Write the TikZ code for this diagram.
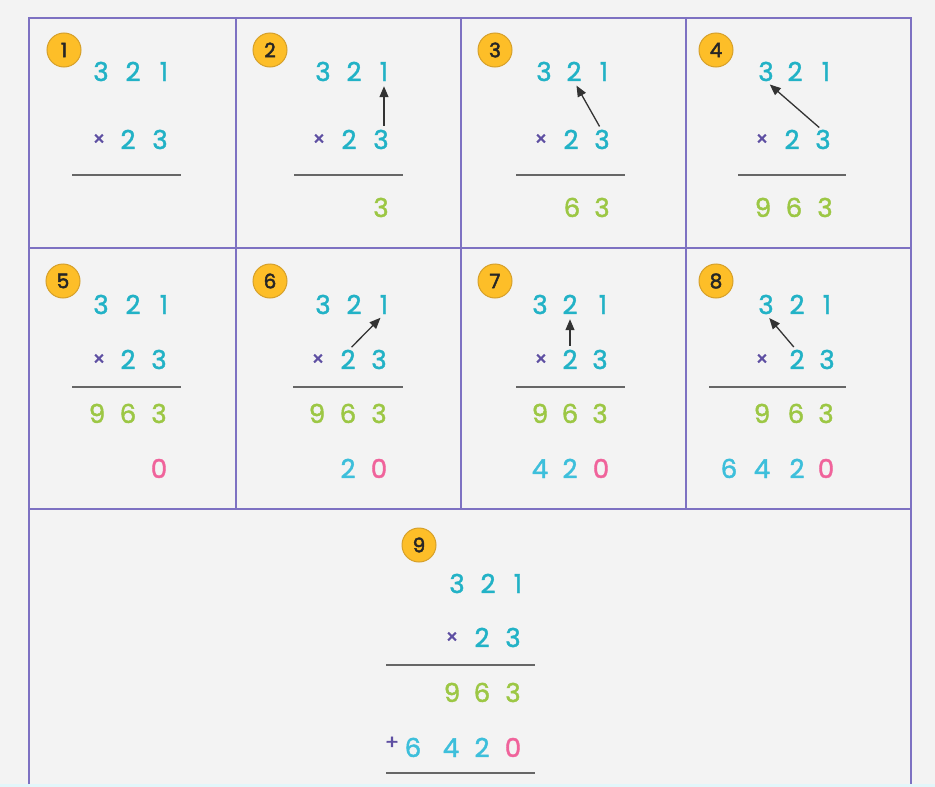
\documentclass[tikz,border=0pt]{standalone}
\usepackage{fontspec}
\setmainfont{Poppins}
\newfontface\digfont{Poppins}[FakeBold=1.6]
\newfontface\badgefont{Poppins}[FakeBold=2.4]
\usetikzlibrary{arrows.meta}
\definecolor{bg}{HTML}{F3F3F3}
\definecolor{grid}{HTML}{7D71C2}
\definecolor{teal}{HTML}{22B2C6}
\definecolor{lcyan}{HTML}{3DBFDB}
\definecolor{lgreen}{HTML}{9CC744}
\definecolor{pink}{HTML}{F0639B}
\definecolor{purp}{HTML}{5E4FA2}
\definecolor{badgef}{HTML}{FDBE28}
\definecolor{badged}{HTML}{D6A02A}
\definecolor{rule}{HTML}{666666}
\definecolor{arrowc}{HTML}{333333}
\definecolor{strip}{HTML}{E2F6FA}
\tikzset{
  dg/.style={inner sep=0pt, font=\fontsize{26}{26}\digfont, text height=18pt, text depth=0pt},
  tl/.style={dg, text=teal},
  cy/.style={dg, text=lcyan},
  gr/.style={dg, text=lgreen},
  pk/.style={dg, text=pink},
  op/.style={inner sep=0pt, font=\fontsize{20}{20}\digfont, text=purp},
  badge/.style={circle, fill=badgef, draw=badged, line width=1pt, minimum size=34pt, inner sep=0pt,
    font=\fontsize{20}{20}\badgefont, text=black!85},
  gridline/.style={draw=grid, line width=1.3pt},
  sumline/.style={draw=rule, line width=1.9pt},
  arr/.style={draw=arrowc, line width=1.3pt, -{Triangle[length=11pt,width=9pt]}, shorten <=5pt, shorten >=5pt}
}
\begin{document}
\begin{tikzpicture}[x=1pt,y=-1pt]
\useasboundingbox (0,0) rectangle (935,787);
\fill[bg] (0,0) rectangle (935,787);
\fill[strip] (0,784) rectangle (935,787);
% grid
\draw[gridline] (29,784) -- (29,18) -- (911,18) -- (911,784);
\draw[gridline] (29,248) -- (911,248);
\draw[gridline] (29,509) -- (911,509);
\draw[gridline] (236,18) -- (236,509);
\draw[gridline] (461,18) -- (461,509);
\draw[gridline] (686,18) -- (686,509);

% ---------- Panel 1
\node[badge] (b1) at (64,50) {1};
\node[tl] (p1a3) at (101,72) {3};
\node[tl] (p1a2) at (133,72) {2};
\node[tl] (p1a1) at (164,72) {1};
\node[op] (p1x) at (99,140) {×};
\node[tl] (p1b2) at (128,140) {2};
\node[tl] (p1b3) at (160,140) {3};
\coordinate (p1l) at (72,175); \coordinate (p1r) at (181,175);
\draw[sumline] (p1l) -- (p1r);

% ---------- Panel 2
\node[badge] (b2) at (270,50) {2};
\node[tl] (p2a3) at (323,72) {3};
\node[tl] (p2a2) at (354,72) {2};
\node[tl] (p2a1) at (384,72) {1};
\node[op] (p2x) at (319,140) {×};
\node[tl] (p2b2) at (349,140) {2};
\node[tl] (p2b3) at (381,140) {3};
\coordinate (p2l) at (294,175); \coordinate (p2r) at (403,175);
\draw[sumline] (p2l) -- (p2r);
\node[gr] (p2c3) at (381,208) {3};
\draw[arr] (p2b3.north -| p2a1) -- (p2a1.south);

% ---------- Panel 3
\node[badge] (b3) at (495,50) {3};
\node[tl] (p3a3) at (544,72) {3};
\node[tl] (p3a2) at (574,72) {2};
\node[tl] (p3a1) at (604,72) {1};
\node[op] (p3x) at (541,140) {×};
\node[tl] (p3b2) at (571,140) {2};
\node[tl] (p3b3) at (602,140) {3};
\coordinate (p3l) at (516,175); \coordinate (p3r) at (625,175);
\draw[sumline] (p3l) -- (p3r);
\node[gr] (p3c6) at (572,208) {6};
\node[gr] (p3c3) at (602,208) {3};
\draw[arr] (p3b3.north) -- (p3a2.south);

% ---------- Panel 4
\node[badge] (b4) at (716,50) {4};
\node[tl] (p4a3) at (766,72) {3};
\node[tl] (p4a2) at (795,72) {2};
\node[tl] (p4a1) at (826,72) {1};
\node[op] (p4x) at (762,140) {×};
\node[tl] (p4b2) at (792,140) {2};
\node[tl] (p4b3) at (823,140) {3};
\coordinate (p4l) at (738,175); \coordinate (p4r) at (846,175);
\draw[sumline] (p4l) -- (p4r);
\node[gr] (p4c9) at (763,208) {9};
\node[gr] (p4c6) at (794,208) {6};
\node[gr] (p4c3) at (825,208) {3};
\draw[arr] (p4b3.north) -- (p4a3.south);

% ---------- Panel 5
\node[badge] (b5) at (63,281) {5};
\node[tl] (p5a3) at (101,305) {3};
\node[tl] (p5a2) at (133,305) {2};
\node[tl] (p5a1) at (164,305) {1};
\node[op] (p5x) at (99,360) {×};
\node[tl] (p5b2) at (128,360) {2};
\node[tl] (p5b3) at (159,360) {3};
\coordinate (p5l) at (72,387); \coordinate (p5r) at (181,387);
\draw[sumline] (p5l) -- (p5r);
\node[gr] (p5c9) at (97,414) {9};
\node[gr] (p5c6) at (128,414) {6};
\node[gr] (p5c3) at (159,414) {3};
\node[pk] (p5d0) at (159,469) {0};

% ---------- Panel 6
\node[badge] (b6) at (270,281) {6};
\node[tl] (p6a3) at (323,305) {3};
\node[tl] (p6a2) at (354,305) {2};
\node[tl] (p6a1) at (384,305) {1};
\node[op] (p6x) at (318,360) {×};
\node[tl] (p6b2) at (348,360) {2};
\node[tl] (p6b3) at (379,360) {3};
\coordinate (p6l) at (293,387); \coordinate (p6r) at (403,387);
\draw[sumline] (p6l) -- (p6r);
\node[gr] (p6c9) at (317,414) {9};
\node[gr] (p6c6) at (348,414) {6};
\node[gr] (p6c3) at (379,414) {3};
\node[cy] (p6d2) at (348,469) {2};
\node[pk] (p6d0) at (379,469) {0};
\draw[arr] (p6b2.north) -- (p6a1.south);

% ---------- Panel 7
\node[badge] (b7) at (495,281) {7};
\node[tl] (p7a3) at (540,305) {3};
\node[tl] (p7a2) at (570,305) {2};
\node[tl] (p7a1) at (603,305) {1};
\node[op] (p7x) at (541,360) {×};
\node[tl] (p7b2) at (570,360) {2};
\node[tl] (p7b3) at (600,360) {3};
\coordinate (p7l) at (516,387); \coordinate (p7r) at (625,387);
\draw[sumline] (p7l) -- (p7r);
\node[gr] (p7c9) at (540,414) {9};
\node[gr] (p7c6) at (570,414) {6};
\node[gr] (p7c3) at (600,414) {3};
\node[cy] (p7d4) at (540,469) {4};
\node[cy] (p7d2) at (570,469) {2};
\node[pk] (p7d0) at (601,469) {0};
\draw[arr] (p7b2.north) -- (p7a2.south);

% ---------- Panel 8
\node[badge] (b8) at (716,281) {8};
\node[tl] (p8a3) at (766,305) {3};
\node[tl] (p8a2) at (797,305) {2};
\node[tl] (p8a1) at (827,305) {1};
\node[op] (p8x) at (762,360) {×};
\node[tl] (p8b2) at (797,360) {2};
\node[tl] (p8b3) at (827,360) {3};
\coordinate (p8l) at (709,387); \coordinate (p8r) at (846,387);
\draw[sumline] (p8l) -- (p8r);
\node[gr] (p8c9) at (762,414) {9};
\node[gr] (p8c6) at (796,414) {6};
\node[gr] (p8c3) at (826,414) {3};
\node[cy] (p8d6) at (729,469) {6};
\node[cy] (p8d4) at (762,469) {4};
\node[cy] (p8d2) at (797,469) {2};
\node[pk] (p8d0) at (826,469) {0};
\draw[arr] (p8b2.north) -- (p8a3.south);

% ---------- Panel 9
\node[badge] (b9) at (419,545) {9};
\node[tl] (p9a3) at (457,584) {3};
\node[tl] (p9a2) at (488,584) {2};
\node[tl] (p9a1) at (518,584) {1};
\node[op] (p9x) at (452,638) {×};
\node[tl] (p9b2) at (482,638) {2};
\node[tl] (p9b3) at (513,638) {3};
\coordinate (p9l) at (386,665); \coordinate (p9r) at (535,665);
\draw[sumline] (p9l) -- (p9r);
\node[gr] (p9c9) at (452,693) {9};
\node[gr] (p9c6) at (482,693) {6};
\node[gr] (p9c3) at (513,693) {3};
\node[op] (p9p) at (392,743) {+};
\node[cy] (p9d6) at (413,748) {6};
\node[cy] (p9d4) at (451,748) {4};
\node[cy] (p9d2) at (482,748) {2};
\node[pk] (p9d0) at (513,748) {0};
\coordinate (p9l2) at (386,773); \coordinate (p9r2) at (535,773);
\draw[sumline] (p9l2) -- (p9r2);
\end{tikzpicture}
\end{document}
